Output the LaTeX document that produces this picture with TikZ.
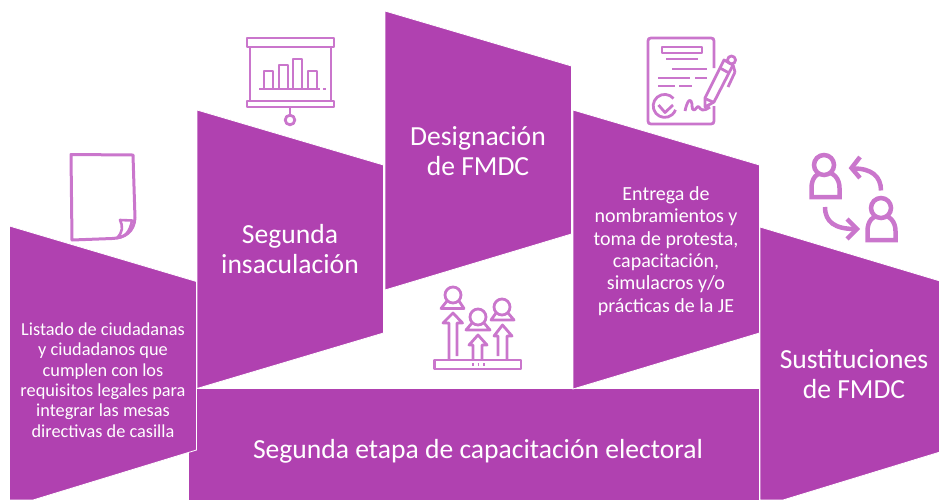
\documentclass[tikz,border=0pt]{standalone}
\usepackage{fontspec}
\setmainfont{Carlito}
\definecolor{panelc}{HTML}{B041B0}
\definecolor{iconc}{HTML}{CA76CC}
\tikzset{
  x=1pt,y=-1pt,
  panel/.style={fill=panelc,draw=white,line width=0.8pt,line join=miter},
  lab/.style={text=white,align=center,inner sep=0pt},
  big/.style={lab,font=\fontsize{27.6}{30}\selectfont},
  small/.style={lab,font=\fontsize{18.3}{20.4}\selectfont},
  mid/.style={lab,font=\fontsize{20}{22.4}\selectfont},
  ico/.style={draw=iconc,line width=2.8pt,fill=none,line join=round},
  icob/.style={draw=iconc,line width=4.5pt,fill=none,line join=miter},
}
\begin{document}
\begin{tikzpicture}
\useasboundingbox (0,0) rectangle (939,499);
% bands
\path[panel] (188,388.5) -- (759.5,388.5) -- (759.5,500) -- (188,500) -- cycle;
\path[panel] (9.5,226) -- (196.5,281.5) -- (196.5,450) -- (33,500) -- (9.5,500) -- cycle;
\path[panel] (197,110) -- (383.5,165) -- (383.5,333) -- (197,388.5) -- cycle;
\path[panel] (385,11) -- (571.5,66) -- (571.5,234) -- (385,290) -- cycle;
\path[panel] (573,110) -- (759.5,165) -- (759.5,333) -- (573,389) -- cycle;
\path[panel] (760,227) -- (940,281) -- (940,452) -- (783,500) -- (760,500) -- cycle;
% labels
\node[small] (t1) at (103,380) {Listado de ciudadanas\\y ciudadanos que\\cumplen con los\\requisitos legales para\\integrar las mesas\\directivas de casilla};
\node[big] (t2) at (290,249) {Segunda\\insaculación};
\node[big] (t3) at (478,151) {Designación\\de FMDC};
\node[mid] (t4) at (666,251) {Entrega de\\nombramientos y\\toma de protesta,\\capacitación,\\simulacros y/o\\prácticas de la JE};
\node[big] (t5) at (854,374) {Sustituciones\\de FMDC};
\node[big] (t6) at (478,451) {Segunda etapa de capacitación electoral};
% document icon
\draw[ico,line width=3pt] (71,154.5) -- (133,155) -- (135,218) .. controls (134,232) and (125,238) .. (112,238.5) -- (72,240) -- cycle;
\draw[ico,line width=2.6pt] (120,220) -- (132,220.5) .. controls (130,232) and (125,237) .. (117,238) .. controls (123,232) and (123,226) .. (120,220) -- cycle;
% presentation icon
\draw[ico] (247,38) rectangle (334,47);
\draw[ico] (247,101) rectangle (334,107);
\draw[ico] (250,47) -- (250,101) (331,47) -- (331,101);
\draw[ico] (259,89) -- (320,89) (323,89) -- (326,89);
\draw[ico] (264,89) -- (264,71) -- (273,71) -- (273,89);
\draw[ico] (279,89) -- (279,65) -- (288,65) -- (288,89);
\draw[ico] (293,89) -- (293,59) -- (302,59) -- (302,89);
\draw[ico] (308,89) -- (308,71) -- (317,71) -- (317,89);
\draw[ico] (290,107) -- (290,115);
\draw[ico] (290,120) circle (4.8);
% contract icon
\draw[ico] (714,68) -- (714,41) .. controls (714,39) and (713,38) .. (711,38) -- (651,38) .. controls (649,38) and (648,39) .. (648,41) -- (648,121) .. controls (648,123) and (649,124) .. (651,124) -- (711,124) .. controls (713,124) and (714,123) .. (714,121) -- (714,106);
\draw[ico] (662,47) rectangle (702,53);
\draw[ico] (666,59) -- (698,59);
\draw[ico] (672,69) -- (707,69);
\draw[ico] (658,78) -- (690,78) (695,78) -- (707,78);
\draw[ico] (658,86) -- (675,86) (679,86) -- (692,86);
\draw[ico] (673.5,98.5) arc (-40:-340:11.5);
\draw[ico] (658.5,105) -- (665,112.5) -- (673,105);
\draw[ico] (685,111) .. controls (687,102) and (689,99) .. (691,101) .. controls (693,104) and (691,110) .. (694,110) .. controls (696,110) and (697,105) .. (699,107) .. controls (701,110) and (703,112) .. (710,107);
\draw[ico] (705,107) -- (705,98) -- (724,60) -- (733,65) -- (714,102) -- cycle;
\draw[ico] (720,68) -- (729,73) (706,99) -- (713,102);
\draw[ico] (735,72) -- (728,87) (733,65) -- (735,72);
\draw[ico] (731.5,60) circle (4);
% exchange icon
\draw[icob] (825,197) -- (811.5,197) -- (811.5,188) .. controls (811.5,178) and (817,172) .. (825,172) .. controls (833,172) and (839.5,178) .. (839.5,188) -- (839.5,197) -- cycle;
\draw[icob,fill=white] (824,165) circle (10);
\draw[icob] (881,240) -- (867.5,240) -- (867.5,231) .. controls (867.5,221) and (873,215) .. (881,215) .. controls (889,215) and (895.5,221) .. (895.5,231) -- (895.5,240) -- cycle;
\draw[icob,fill=white] (881,208) circle (10);
\draw[icob] (881,190.5) .. controls (881,176) and (871,168.5) .. (854,168.5);
\draw[icob] (860,157) -- (851.5,168) -- (860,178);
\draw[icob] (825,207) .. controls (825,222) and (835,229) .. (855,229);
\draw[icob] (847,219) -- (857,229) -- (847,239);
% people-up icon
\draw[ico] (434.5,360) rectangle (521,369);
\draw[ico] (472,364.5) -- (473.5,364.5) (477.5,364.5) -- (479,364.5) (483,364.5) -- (484.5,364.5);
\draw[ico] (449,360) -- (449,323) -- (443,323) -- (453,313) -- (462.5,323) -- (457,323) -- (457,356);
\draw[ico] (473,360) -- (473,345) -- (469,345) -- (478,335) -- (487,345) -- (482,345) -- (482,360);
\draw[ico] (498,356) -- (498,336) -- (494,336) -- (502.5,325) -- (512,336) -- (507,336) -- (507,360);
\draw[ico] (453,295) circle (8);
\draw[ico] (447,301) -- (441,308.5) -- (464,308.5) -- (459,301);
\draw[ico] (478,317) circle (8);
\draw[ico] (472,323) -- (466,330) -- (490,330) -- (484,323);
\draw[ico] (502,307) circle (8);
\draw[ico] (496,313) -- (491,320) -- (514,320) -- (508,313);
\end{tikzpicture}
\end{document}
